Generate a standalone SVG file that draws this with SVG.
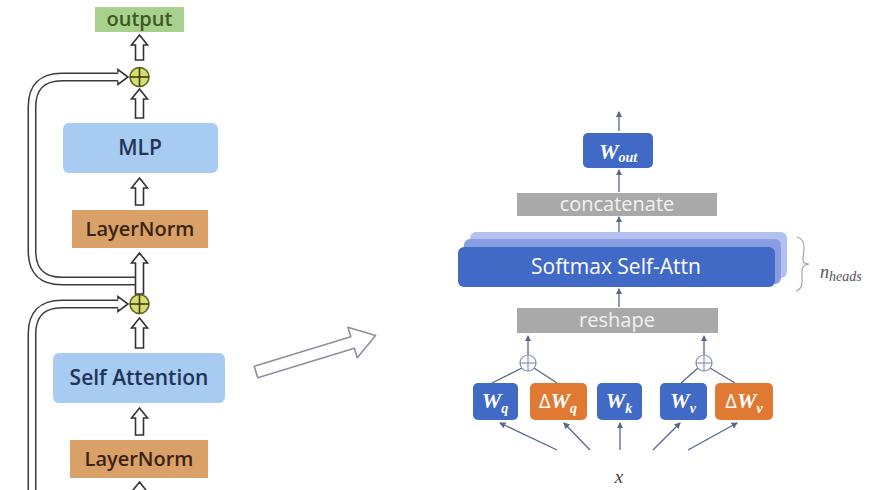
<svg xmlns="http://www.w3.org/2000/svg" width="873" height="490" viewBox="0 0 873 490">
  <style>
    .lbl { font-family: "Open Sans", "Liberation Sans", sans-serif; font-weight: 600; text-anchor: middle; }
    .blue { fill: #a8cbf1; }
    .tan { fill: #d9a067; }
    .hollow { fill: #ffffff; stroke: #333333; stroke-width: 1.6; stroke-linejoin: miter; }
    .tube-out { fill: none; stroke: #3a3a3a; stroke-width: 9; }
    .tube-in { fill: none; stroke: #ffffff; stroke-width: 6; }
    .plus { fill: #d6df6c; stroke: #5e6222; stroke-width: 1.6; }
    .pluscross { stroke: #3b3d15; stroke-width: 1.6; }
    .thin { stroke: #56688e; stroke-width: 1.3; fill: none; }
    .gray { fill: #a9a9a9; }
    .wbox { fill: #4169c6; }
    .obox { fill: #e07a32; }
    .wl { font-family: "Liberation Serif", "DejaVu Serif", serif; font-style: italic; font-weight: bold; fill: #ffffff; font-size: 22px; text-anchor: middle; }
    .wsub { font-size: 14px; }
    .glbl { font-family: "Open Sans", "Liberation Sans", sans-serif; fill: #f2f2f2; font-size: 20px; text-anchor: middle; }
  </style>
  <defs>
    <marker id="tip" viewBox="0 0 6 6" refX="5" refY="3" markerWidth="5" markerHeight="5" orient="auto">
      <path d="M0,0 L6,3 L0,6 Z" fill="#56688e"/>
    </marker>
  </defs>

  <!-- residual (skip) tubes -->
  <g id="connectors">
    <path class="tube-out" d="M137,281 H62 Q32,281 32,251 V107 Q32,77 62,77 H119"/>
    <path class="tube-in" d="M137,281 H62 Q32,281 32,251 V107 Q32,77 62,77 H119"/>
    <path class="hollow" d="M118,72.5 V69.5 L128,77 L118,84.5 V81.5"/>

    <path class="tube-out" d="M137,530 H62 Q32,530 32,500 V334 Q32,304 62,304 H119"/>
    <path class="tube-in" d="M137,530 H62 Q32,530 32,500 V334 Q32,304 62,304 H119"/>
    <path class="hollow" d="M118,299.5 V296.5 L128,304 L118,311.5 V308.5"/>

    <!-- hollow up arrows along the main column -->
    <path class="hollow" d="M139.5,35 L147.5,45 L143.5,45 L143.5,60 L135.5,60 L135.5,45 L131.5,45 Z"/>
    <path class="hollow" d="M139.5,89 L147.5,99 L143.5,99 L143.5,118 L135.5,118 L135.5,99 L131.5,99 Z"/>
    <path class="hollow" d="M139.5,178 L147.5,188 L143.5,188 L143.5,205 L135.5,205 L135.5,188 L131.5,188 Z"/>
    <path class="hollow" d="M139.5,253 L147.5,263 L143.5,263 L143.5,294 L135.5,294 L135.5,263 L131.5,263 Z"/>
    <path class="hollow" d="M139.5,318 L147.5,328 L143.5,328 L143.5,348 L135.5,348 L135.5,328 L131.5,328 Z"/>
    <path class="hollow" d="M139.5,408 L147.5,418 L143.5,418 L143.5,435 L135.5,435 L135.5,418 L131.5,418 Z"/>
    <path class="hollow" d="M139.5,482 L147.5,492 L143.5,492 L143.5,500 L135.5,500 L135.5,492 L131.5,492 Z"/>

    <!-- zoom-in arrow between the two halves -->
    <path transform="translate(256,372) rotate(-17)" d="M0,-6 H101 V-16 L125,0 L101,16 V6 H0 Z" fill="#ffffff" stroke="#8e8e9c" stroke-width="1.6" stroke-linejoin="round"/>

    <!-- right-hand thin arrows -->
    <line class="thin" x1="619" y1="131" x2="619" y2="112" marker-end="url(#tip)"/>
    <line class="thin" x1="619" y1="192" x2="619" y2="170" marker-end="url(#tip)"/>
    <line class="thin" x1="619" y1="232" x2="619" y2="217" marker-end="url(#tip)"/>
    <line class="thin" x1="619" y1="307" x2="619" y2="289" marker-end="url(#tip)"/>
    <line class="thin" x1="528" y1="355" x2="528" y2="336" marker-end="url(#tip)"/>
    <line class="thin" x1="704" y1="355" x2="704" y2="336" marker-end="url(#tip)"/>

    <!-- projections feeding the adders -->
    <line class="thin" x1="522" y1="368" x2="492" y2="383"/>
    <line class="thin" x1="534" y1="368" x2="557" y2="383"/>
    <line class="thin" x1="698" y1="368" x2="681" y2="383"/>
    <line class="thin" x1="710" y1="368" x2="735" y2="383"/>

    <!-- input x fanning out to the projections -->
    <line class="thin" x1="557" y1="450" x2="500" y2="423" marker-end="url(#tip)"/>
    <line class="thin" x1="590" y1="450" x2="564" y2="423" marker-end="url(#tip)"/>
    <line class="thin" x1="620" y1="450" x2="620" y2="423" marker-end="url(#tip)"/>
    <line class="thin" x1="653" y1="450" x2="680" y2="423" marker-end="url(#tip)"/>
    <line class="thin" x1="688" y1="450" x2="737" y2="423" marker-end="url(#tip)"/>
  </g>

  <!-- left block: transformer layer -->
  <g id="output">
    <rect x="95" y="7" width="89" height="25" fill="#a9d18e"/>
    <text class="lbl" x="139.5" y="26" font-size="20" fill="#3d5a22" font-weight="700">output</text>
  </g>
  <g id="add-top">
    <circle class="plus" cx="139.5" cy="77" r="9.5"/>
    <line class="pluscross" x1="130" y1="77" x2="149" y2="77"/>
    <line class="pluscross" x1="139.5" y1="67.5" x2="139.5" y2="86.5"/>
  </g>
  <g id="mlp">
    <rect class="blue" x="63" y="123" width="155" height="50" rx="6"/>
    <text class="lbl" x="140" y="155" font-size="21" fill="#1f3456">MLP</text>
  </g>
  <g id="layernorm-top">
    <rect class="tan" x="72" y="210" width="136" height="38"/>
    <text class="lbl" x="140" y="236" font-size="20" fill="#3a2414">LayerNorm</text>
  </g>
  <g id="add-bottom">
    <circle class="plus" cx="139.5" cy="304" r="9.5" fill="#c8dc62"/>
    <line class="pluscross" x1="130" y1="304" x2="149" y2="304"/>
    <line class="pluscross" x1="139.5" y1="294.5" x2="139.5" y2="313.5"/>
  </g>
  <g id="self-attention">
    <rect class="blue" x="53" y="353" width="172" height="50" rx="6"/>
    <text class="lbl" x="139" y="385" font-size="21" fill="#1f3456">Self Attention</text>
  </g>
  <g id="layernorm-bottom">
    <rect class="tan" x="70" y="440" width="138" height="38"/>
    <text class="lbl" x="139" y="466" font-size="20" fill="#3a2414">LayerNorm</text>
  </g>

  <!-- right block: attention internals -->
  <g id="w-out">
    <rect class="wbox" x="583" y="133" width="70" height="35" rx="5"/>
    <text class="wl" x="618" y="159">W<tspan class="wsub" dy="3">out</tspan></text>
  </g>
  <g id="concatenate">
    <rect class="gray" x="517" y="193" width="200" height="23"/>
    <text class="glbl" x="617" y="211">concatenate</text>
  </g>
  <g id="softmax-attn">
    <rect x="470" y="232" width="317" height="46" rx="6" fill="#b3c1ee"/>
    <rect x="464" y="239" width="317" height="45" rx="6" fill="#8a9de0"/>
    <rect x="458" y="247" width="317" height="40" rx="6" fill="#4169c6"/>
    <text x="616" y="274" text-anchor="middle" font-family="Open Sans, Liberation Sans, sans-serif" font-size="21" fill="#ffffff">Softmax Self-Attn</text>
  </g>
  <g id="heads">
    <path d="M797,237 Q805,239 804,250 L803,258 Q802,264 809,264 Q802,265 802,271 L802,279 Q803,289 796,291" fill="none" stroke="#a0a0a0" stroke-width="1.1"/>
    <text x="820" y="278" font-family="Liberation Serif, serif" font-style="italic" font-size="18" fill="#555555">n<tspan font-size="14" dy="3">heads</tspan></text>
  </g>
  <g id="reshape">
    <rect class="gray" x="517" y="308" width="201" height="25"/>
    <text class="glbl" x="617" y="327">reshape</text>
  </g>
  <g id="add-q">
    <circle cx="528" cy="363" r="8" fill="#ffffff" stroke="#8491b3" stroke-width="1.2"/>
    <line x1="520" y1="363" x2="536" y2="363" stroke="#8491b3" stroke-width="1.2"/>
    <line x1="528" y1="355" x2="528" y2="371" stroke="#8491b3" stroke-width="1.2"/>
  </g>
  <g id="add-v">
    <circle cx="704" cy="363" r="8" fill="#ffffff" stroke="#8491b3" stroke-width="1.2"/>
    <line x1="696" y1="363" x2="712" y2="363" stroke="#8491b3" stroke-width="1.2"/>
    <line x1="704" y1="355" x2="704" y2="371" stroke="#8491b3" stroke-width="1.2"/>
  </g>
  <g id="w-q">
    <rect class="wbox" x="473" y="383" width="45" height="37" rx="5"/>
    <text class="wl" x="495" y="408">W<tspan class="wsub" dy="5">q</tspan></text>
  </g>
  <g id="dw-q">
    <rect class="obox" x="530" y="383" width="57" height="37" rx="5"/>
    <text class="wl" x="558" y="408"><tspan font-style="normal" font-weight="normal" font-family="Open Sans, Liberation Sans, sans-serif" font-size="20">Δ</tspan>W<tspan class="wsub" dy="5">q</tspan></text>
  </g>
  <g id="w-k">
    <rect class="wbox" x="597" y="383" width="45" height="37" rx="5"/>
    <text class="wl" x="619" y="408">W<tspan class="wsub" dy="5">k</tspan></text>
  </g>
  <g id="w-v">
    <rect class="wbox" x="660" y="383" width="47" height="37" rx="5"/>
    <text class="wl" x="683" y="408">W<tspan class="wsub" dy="5">v</tspan></text>
  </g>
  <g id="dw-v">
    <rect class="obox" x="715" y="383" width="58" height="37" rx="5"/>
    <text class="wl" x="744" y="408"><tspan font-style="normal" font-weight="normal" font-family="Open Sans, Liberation Sans, sans-serif" font-size="20">Δ</tspan>W<tspan class="wsub" dy="5">v</tspan></text>
  </g>
  <g id="input-x">
    <text x="619" y="483" text-anchor="middle" font-family="Liberation Serif, serif" font-style="italic" font-size="19" fill="#444444">x</text>
  </g>
</svg>
